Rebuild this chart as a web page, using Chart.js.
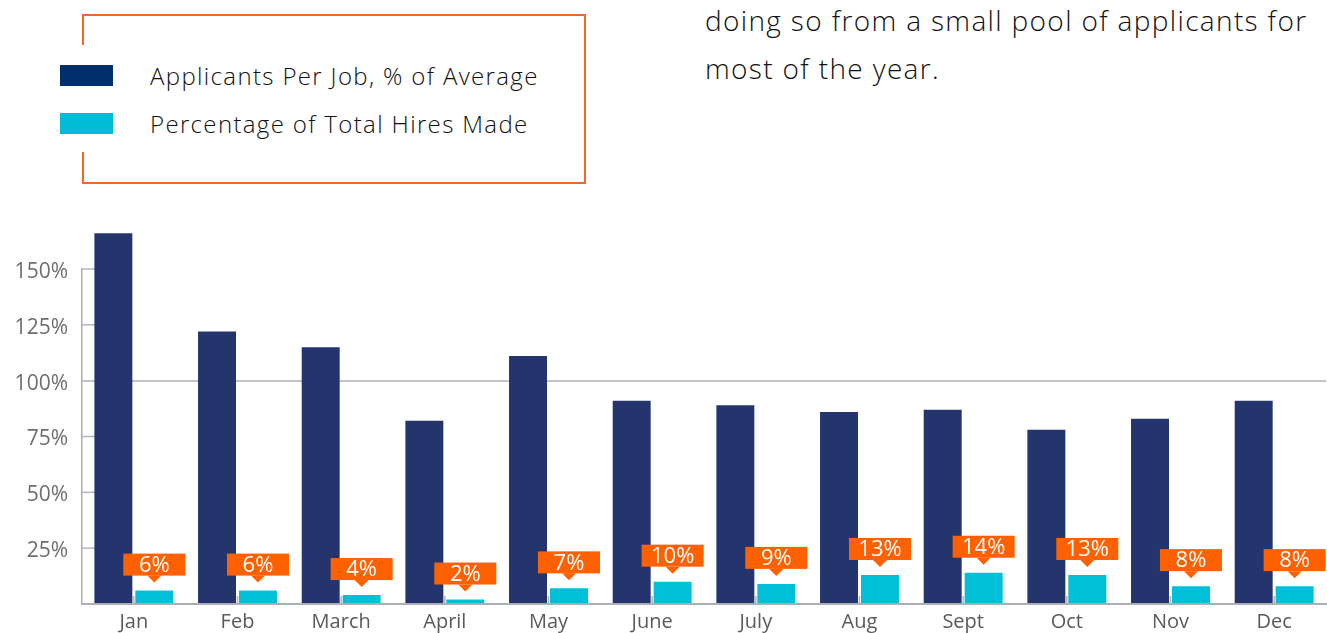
<!DOCTYPE html>
<html>
<head>
<meta charset="utf-8">
<script src="https://cdn.jsdelivr.net/npm/chart.js@4.4.1/dist/chart.umd.min.js"></script>
<style>
  html, body { margin: 0; padding: 0; background: #fff; }
  body { width: 1327px; height: 633px; position: relative; overflow: hidden; font-family: "Open Sans", "Noto Sans", sans-serif; font-weight: 300; color: #222; }
  #chart { position: absolute; left: 0; top: 0; }
  .legend-box { position: absolute; left: 82px; top: 14px; width: 502px; height: 166px; border: 2px solid #f26a21; border-left: none; }
  .legend-edge { position: absolute; left: 82px; width: 2px; background: #f26a21; }
  .legend-row { position: absolute; left: 60px; height: 22px; display: flex; align-items: center; }
  .swatch { width: 53px; height: 21px; margin-right: 37px; }
  .legend-row span { font-size: 24px; letter-spacing: 1.35px; white-space: nowrap; color: #111; }
  .note { position: absolute; left: 705px; top: -4px; font-size: 28px; letter-spacing: 1.35px; line-height: 48px; color: #111; white-space: nowrap; }
</style>
</head>
<body>
<div class="note">doing so from a small pool of applicants for<br>most of the year.</div>
<div class="legend-box"></div>
<div class="legend-edge" style="top:14px;height:31px"></div>
<div class="legend-edge" style="top:152px;height:30px"></div>
<div id="legend"></div>
<canvas id="chart" width="1327" height="633"></canvas>
<script>
const months = ['Jan', 'Feb', 'March', 'April', 'May', 'June', 'July', 'Aug', 'Sept', 'Oct', 'Nov', 'Dec'];
const applicantsPct = [166, 122, 115, 82, 111, 91, 89, 86, 87, 78, 83, 91];
const hiresPct = [6, 6, 4, 2, 7, 10, 9, 13, 14, 13, 8, 8];
const yTicks = [25, 50, 75, 100, 125, 150];
const seriesNames = ['Applicants Per Job, % of Average', 'Percentage of Total Hires Made'];
const swatchColors = ['#002f6c', '#00bcd4'];

// legend drawn as html, rows below each other
const legendEl = document.getElementById('legend');
seriesNames.forEach((name, i) => {
    const row = document.createElement('div');
    row.className = 'legend-row';
    row.style.top = (64 + i * 48) + 'px';
    row.innerHTML = `<div class="swatch" style="background:${swatchColors[i]}"></div><span>${name}</span>`;
    legendEl.appendChild(row);
});

// short tick marks inside the plot + small ticks on the x axis
const innerTicks = {
    id: 'innerTicks',
    beforeDatasetsDraw(chart) {
        const { ctx, chartArea, scales: { x, y } } = chart;
        ctx.save();
        ctx.strokeStyle = '#b3b7bc';
        ctx.lineWidth = 1.5;
        y.ticks.forEach(t => {
            if (t.value === 0 || t.value === 100) return;
            const py = y.getPixelForValue(t.value);
            ctx.beginPath();
            ctx.moveTo(chartArea.left, py);
            ctx.lineTo(chartArea.left + 13, py);
            ctx.stroke();
        });
        x.ticks.forEach((t, i) => {
            const px = x.getPixelForTick(i);
            ctx.beginPath();
            ctx.moveTo(px, chartArea.bottom);
            ctx.lineTo(px, chartArea.bottom - 8);
            ctx.stroke();
        });
        ctx.restore();
    }
};

// orange callouts above the hires bars
const callouts = {
    id: 'callouts',
    afterDatasetsDraw(chart) {
        const { ctx } = chart;
        const meta = chart.getDatasetMeta(1);
        ctx.save();
        meta.data.forEach((bar, i) => {
            const tip = bar.y - 8;
            const bottom = tip - 7;
            const top = bottom - 22;
            ctx.fillStyle = '#ff6000';
            ctx.fillRect(bar.x - 31, top, 62, 22);
            ctx.beginPath();
            ctx.moveTo(bar.x - 7, bottom);
            ctx.lineTo(bar.x + 7, bottom);
            ctx.lineTo(bar.x, tip);
            ctx.closePath();
            ctx.fill();
            ctx.fillStyle = '#fff';
            ctx.font = '22px "Open Sans"';
            ctx.textAlign = 'center';
            ctx.textBaseline = 'middle';
            ctx.fillText(hiresPct[i] + '%', bar.x, top + 12);
        });
        ctx.restore();
    }
};

new Chart(document.getElementById('chart'), {
    type: 'bar',
    data: {
        labels: months,
        datasets: [{
            label: seriesNames[0],
            data: applicantsPct,
            backgroundColor: '#24356d',
            categoryPercentage: 0.79,
            barPercentage: 0.927,
            clip: false
        }, {
            label: seriesNames[1],
            data: hiresPct,
            backgroundColor: '#00c0d7',
            categoryPercentage: 0.79,
            barPercentage: 0.927,
            clip: false
        }]
    },
    options: {
        responsive: false,
        animation: false,
        layout: { padding: { top: 269, right: 1, left: 0, bottom: 0 } },
        plugins: { legend: { display: false }, tooltip: { enabled: false } },
        scales: {
            x: {
                grid: { color: 'rgba(0,0,0,0)', drawTicks: false },
                border: { display: true, color: '#abafb4', width: 2 },
                ticks: { color: '#5a5a5a', font: { family: 'Open Sans', size: 20 }, padding: 6, maxRotation: 0 },
                afterFit(scale) { scale.height = 29; }
            },
            y: {
                min: 0,
                max: 150,
                afterBuildTicks(scale) { scale.ticks = [0].concat(yTicks).map(v => ({ value: v })); },
                grid: {
                    drawTicks: false,
                    lineWidth: 2,
                    color: c => (c.tick && c.tick.value === 100) ? '#c0c4c8' : 'rgba(0,0,0,0)'
                },
                border: { display: true, color: '#abafb4', width: 1.5 },
                ticks: {
                    color: '#6e6e6e',
                    font: { family: 'Open Sans', size: 21 },
                    padding: 14,
                    labelOffset: 3,
                    callback: v => v === 0 ? '' : v + '%'
                },
                afterFit(scale) { scale.width = 82; }
            }
        }
    },
    plugins: [innerTicks, callouts]
});
</script>
</body>
</html>
